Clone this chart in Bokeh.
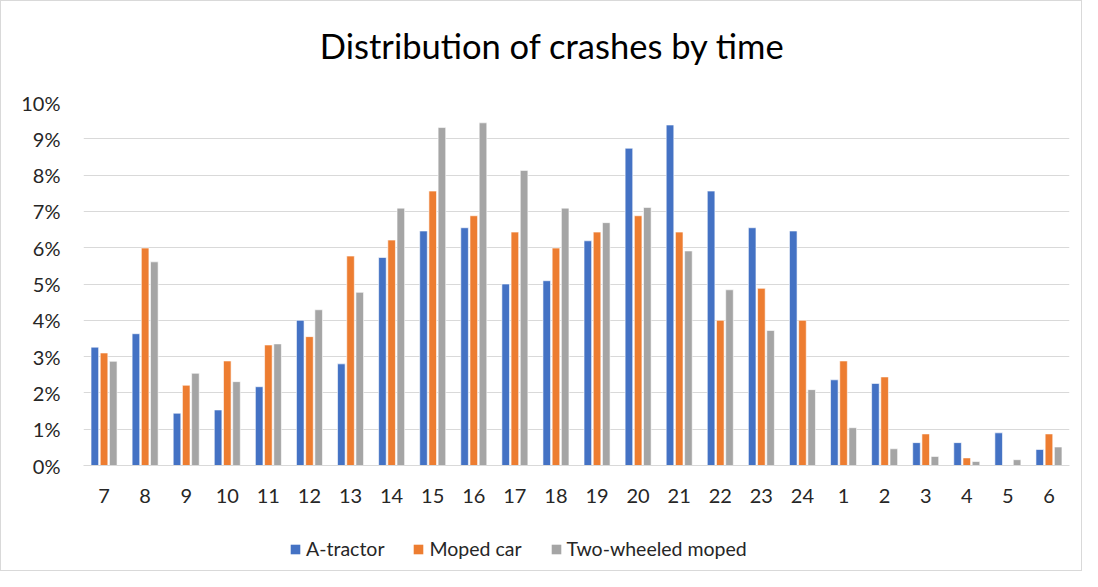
from bokeh.plotting import figure
from bokeh.layouts import column
from bokeh.core.properties import value
from bokeh.models import ColumnDataSource, FactorRange, Range1d, PrintfTickFormatter, Legend, LegendItem, SingleIntervalTicker
from bokeh.transform import dodge
from bokeh.embed import file_html
from bokeh.resources import INLINE

title_text = "Distribution of crashes by time"
hours = ["7", "8", "9", "10", "11", "12", "13", "14", "15", "16", "17", "18",
         "19", "20", "21", "22", "23", "24", "1", "2", "3", "4", "5", "6"]
a_tractor = [3.26, 3.63, 1.44, 1.53, 2.17, 4.00, 2.80, 5.73, 6.46, 6.55, 5.00, 5.09,
             6.19, 8.74, 9.38, 7.56, 6.55, 6.46, 2.36, 2.26, 0.63, 0.63, 0.90, 0.44]
moped_car = [3.10, 5.99, 2.21, 2.88, 3.32, 3.55, 5.77, 6.21, 7.56, 6.88, 6.43, 5.99,
             6.43, 6.88, 6.43, 4.00, 4.88, 4.00, 2.88, 2.44, 0.87, 0.21, 0.00, 0.87]
two_wheeled = [2.87, 5.61, 2.54, 2.31, 3.35, 4.29, 4.77, 7.09, 9.31, 9.44, 8.13, 7.09,
               6.69, 7.11, 5.91, 4.84, 3.72, 2.09, 1.04, 0.46, 0.25, 0.11, 0.16, 0.51]
series_names = ["A-tractor", "Moped car", "Two-wheeled moped"]
colors = ["#4472C4", "#ED7D31", "#A5A5A5"]

source = ColumnDataSource(data=dict(hours=hours, a=a_tractor, m=moped_car, t=two_wheeled))

FONT = "Lato"
W = 1082
BL, BR = 83, 13


def strip(height):
    f = figure(width=W, height=height, x_range=Range1d(BL, W - BR), y_range=Range1d(0, height),
               output_backend="svg", toolbar_location=None,
               x_axis_location=None, y_axis_location=None,
               min_border_left=BL, min_border_right=BR, min_border_top=0, min_border_bottom=0)
    f.xgrid.visible = False
    f.ygrid.visible = False
    f.outline_line_color = None
    f.border_fill_color = None
    f.background_fill_color = None
    return f


# title strip (chart title centred over the whole chart, as in the original)
tf = strip(90)
tf.text(x=[552], y=[45], text=[title_text], text_align="center", text_baseline="alphabetic",
        text_font=value(FONT), text_font_size="34.5px", text_color="#000000")

# main chart
p = figure(x_range=FactorRange(*hours), y_range=Range1d(0, 10),
           width=W, height=425, output_backend="svg", toolbar_location=None,
           min_border_left=BL, min_border_right=BR, min_border_top=12, min_border_bottom=50)

for col, off, color in zip(["a", "m", "t"], [-0.224, 0.0, 0.224], colors):
    p.vbar(x=dodge("hours", off, range=p.x_range), top=col, width=0.185,
           source=source, fill_color=color, line_color="white", line_width=0.6)

p.x_range.range_padding = 0
p.x_range.factor_padding = 0

p.yaxis.ticker = SingleIntervalTicker(interval=1)
p.yaxis.formatter = PrintfTickFormatter(format="%d%%")
for ax in (p.xaxis[0], p.yaxis[0]):
    ax.major_label_text_font = FONT
    ax.major_label_text_font_size = "20px"
    ax.major_label_text_color = "#262626"
    ax.major_tick_line_color = None
    ax.minor_tick_line_color = None
p.yaxis.axis_line_color = None
p.yaxis.major_label_standoff = 17
p.xaxis.axis_line_color = "#d9d9d9"
p.xaxis.axis_line_width = 1
p.xaxis.major_label_standoff = 17

p.xgrid.grid_line_color = None
p.ygrid.grid_line_color = "#d9d9d9"
p.ygrid.grid_line_width = 1
p.outline_line_color = None
p.border_fill_color = None
p.background_fill_color = None

# legend strip below the chart
lf = strip(56)
dummy = []
for color in colors:
    # zero-height bar: nothing visible is drawn, only its legend swatch shows
    dummy.append(lf.vbar(x=[500], top=[0], bottom=[0], width=1,
                         fill_color=color, line_color=None))

legend = Legend(items=[LegendItem(label=n, renderers=[r]) for n, r in zip(series_names, dummy)],
                orientation="horizontal", location=(206, 11))
legend.label_text_font = FONT
legend.label_text_font_size = "19.5px"
legend.label_text_color = "#262626"
legend.glyph_width = 12
legend.glyph_height = 12
legend.spacing = 28
legend.label_standoff = 5
legend.border_line_color = None
legend.background_fill_alpha = 0
legend.padding = 0
legend.margin = 0
lf.add_layout(legend)

layout = column(tf, p, lf, spacing=0)
layout.styles = {"outline": "1px solid #d9d9d9", "outline-offset": "-1px"}

open("out.html", "w").write(file_html(layout, INLINE))
